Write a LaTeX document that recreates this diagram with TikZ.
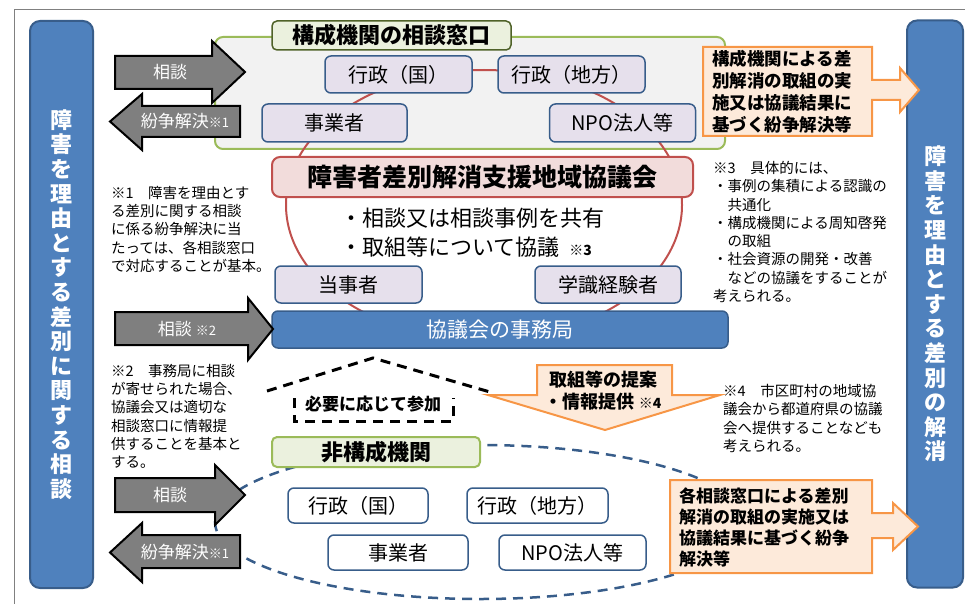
\documentclass[tikz,border=0pt]{standalone}
\usepackage{fontspec}
\setmainfont{Noto Sans CJK JP}
\definecolor{barblue}{HTML}{4F81BD}
\definecolor{barline}{HTML}{385D8A}
\definecolor{memfill}{HTML}{E6E0EC}
\definecolor{grpgreen}{HTML}{9BBB59}
\definecolor{titlegreen}{HTML}{4F6228}
\definecolor{lightgreen}{HTML}{EBF1DE}
\definecolor{grpfill}{HTML}{F2F2F2}
\definecolor{kyored}{HTML}{C0504D}
\definecolor{kyofill}{HTML}{F2DCDB}
\definecolor{orline}{HTML}{F79646}
\definecolor{orfill}{HTML}{FDEADA}
\definecolor{arrgray}{HTML}{7F7F7F}
\newcommand{\fsz}[2]{\fontsize{#1}{#2}\selectfont}
\tikzset{
  member/.style={draw=barline, fill=memfill, line width=1.5pt, rounded corners=6pt, inner sep=0pt, minimum height=37pt, font=\fsz{20}{24}},
  outsider/.style={member, fill=white, minimum height=35pt},
  grayarrow/.style={draw=black, fill=arrgray, line width=2pt},
  arrowlabel/.style={text=white, font=\fsz{17}{20}, inner sep=0pt},
  callout/.style={draw=orline, fill=orfill, line width=2pt},
  calltext/.style={font=\bfseries\fsz{17.5}{22}, align=left, inner sep=0pt, anchor=west},
  note/.style={font=\fsz{14.5}{18.3}, align=left, inner sep=0pt, anchor=north west},
  sidebar/.style={draw=barline, fill=barblue, line width=2pt, rounded corners=10pt, text=white, align=center, font=\bfseries\fsz{22}{24.6}},
  housedash/.style={line width=3pt, dash pattern=on 10pt off 7pt},
}
\begin{document}
\begin{tikzpicture}[x=1pt, y=-1pt]
  \useasboundingbox (0,0) rectangle (965,604);
  \draw[black!50, line width=1pt] (14,604) -- (14,10) -- (965,10);
  \draw[barline, line width=2.5pt, dash pattern=on 10pt off 7pt] (480,522) ellipse [x radius=265pt, y radius=77pt];
  \draw[draw=grpgreen, fill=grpfill, line width=2pt, rounded corners=8pt] (215,37) rectangle (725,149);
  \draw[kyored, line width=2pt] (484,205) ellipse [x radius=198pt, y radius=135pt];
  \node[draw=titlegreen, fill=lightgreen, line width=1.5pt, rounded corners=5pt, minimum width=239pt, minimum height=29pt, inner sep=0pt, font=\bfseries\fsz{22}{24}] (kousei) at (391.5,35.5) {構成機関の相談窓口};
  \node[member, minimum width=147pt] (kuni) at (398.5,74.5) {行政（国）};
  \node[member, minimum width=147pt] (chiho) at (571.5,74.5) {行政（地方）};
  \node[member, minimum width=145pt, minimum height=38pt] (jigyo) at (334.5,123) {事業者};
  \node[member, minimum width=146pt, minimum height=38pt] (npo) at (622.5,123) {NPO法人等};
  \node[draw=kyored, fill=kyofill, line width=2pt, rounded corners=8pt, minimum width=421pt, minimum height=40pt, inner sep=0pt, font=\bfseries\fsz{25}{28}] (kyogikai) at (482.5,177) {障害者差別解消支援地域協議会};
  \node[anchor=west, align=left, inner sep=0pt, font=\fsz{22}{29}] (kyogi) at (340,232.5) {・相談又は相談事例を共有\\・取組等について協議\ \ {\bfseries\fsz{14}{14}※3}};
  \node[member] [minimum width=147pt] (tojisha) at (348.5,284.5) {当事者};
  \node[member, minimum width=146pt] (gakushiki) at (608,284.5) {学識経験者};
  \node[draw=barline, fill=barblue, line width=1.5pt, rounded corners=6pt, minimum width=456pt, minimum height=37pt, inner sep=0pt, text=white, font=\fsz{21}{24}] (jimukyoku) at (500,329.5) {協議会の事務局};

  \draw[grayarrow] (115,56) -- (212,56) -- (212,41) -- (245,72) -- (212,103) -- (212,89) -- (115,89) -- cycle;
  \node[arrowlabel] (soudan1) at (170,72) {相談};
  \draw[grayarrow] (240,106) -- (142,106) -- (142,94) -- (110,121.5) -- (142,150) -- (142,137) -- (240,137) -- cycle;
  \node[arrowlabel] (funso1) at (185,121.5) {紛争解決{\fsz{13}{13}※1}};
  \draw[grayarrow] (115,312) -- (248,312) -- (248,298) -- (273,329) -- (248,360) -- (248,345) -- (115,345) -- cycle;
  \node[arrowlabel] (soudan2) at (187,329) {相談\ {\fsz{13}{13}※2}};
  \draw[grayarrow] (115,478) -- (215,478) -- (215,465) -- (245,495) -- (215,525) -- (215,512) -- (115,512) -- cycle;
  \node[arrowlabel] (soudan3) at (170,495) {相談};
  \draw[grayarrow] (240,535) -- (142,535) -- (142,523) -- (110,552.5) -- (142,582) -- (142,568) -- (240,568) -- cycle;
  \node[arrowlabel] (funso2) at (185,552) {紛争解決{\fsz{13}{13}※1}};

  \draw[housedash] (267,391) -- (373,358) -- (490,392);
  \draw[housedash] (294,398) -- (294,421) -- (453,421) -- (453,398);
  \node[font=\bfseries\fsz{17}{20}, inner sep=0pt] (sanka) at (373,404) {必要に応じて参加};
  \draw[callout] (537,365) -- (672,365) -- (672,395) -- (720,395) -- (605,430) -- (488,395) -- (537,395) -- cycle;
  \node[font=\bfseries\fsz{18}{22}, align=center, inner sep=0pt] (teian) at (603,391) {取組等の提案\\・情報提供\ {\fsz{14}{14}※4}};

  \node[draw=grpgreen, fill=lightgreen, line width=2pt, rounded corners=5pt, minimum width=208pt, minimum height=30pt, inner sep=0pt, font=\bfseries\fsz{22}{24}] (hikousei) at (376,452) {非構成機関};
  \node[outsider, minimum width=140pt] (bkuni) at (358,505.5) {行政（国）};
  \node[outsider, minimum width=141pt] (bchiho) at (537.5,505.5) {行政（地方）};
  \node[outsider, minimum width=140pt] (bjigyo) at (398,552.5) {事業者};
  \node[outsider, minimum width=147pt] (bnpo) at (572.5,552.5) {NPO法人等};

  \node[sidebar, minimum width=63pt, minimum height=567pt] (leftbar) at (61.5,304.5) {障\\害\\を\\理\\由\\と\\す\\る\\差\\別\\に\\関\\す\\る\\相\\談};
  \node[sidebar, minimum width=56pt, minimum height=567pt] (rightbar) at (935,304) {障\\害\\を\\理\\由\\と\\す\\る\\差\\別\\の\\解\\消};

  \draw[callout] (703,47) -- (872,47) -- (872,80) -- (900,80) -- (900,68) -- (919,90) -- (900,112) -- (900,100) -- (872,100) -- (872,136) -- (703,136) -- cycle;
  \node[calltext] (kekka1) at (712,92) {構成機関による差\\別解消の取組の実\\施又は協議結果に\\基づく紛争解決等};
  \draw[callout] (670,480) -- (872,480) -- (872,513) -- (893,513) -- (893,503) -- (918,526.5) -- (893,550) -- (893,538) -- (872,538) -- (872,573) -- (670,573) -- cycle;
  \node[calltext, font=\bfseries\fsz{17}{21}] (kekka2) at (679,527) {各相談窓口による差別\\解消の取組の実施又は\\協議結果に基づく紛争\\解決等};

  \node[note] (note1) at (111,186) {※1　障害を理由とす\\る差別に関する相談\\に係る紛争解決に当\\たっては、各相談窓口\\で対応することが基本。};
  \node[note] (note2) at (111,364) {※2　事務局に相談\\が寄せられた場合、\\協議会又は適切な\\相談窓口に情報提\\供することを基本と\\する。};
  \node[note] (note3) at (713,161) {※3　具体的には、\\・事例の集積による認識の\\　共通化\\・構成機関による周知啓発\\　の取組\\・社会資源の開発・改善\\　などの協議をすることが\\考えられる。};
  \node[note] (note4) at (723,384) {※4　市区町村の地域協\\議会から都道府県の協議\\会へ提供することなども\\考えられる。};
\end{tikzpicture}
\end{document}
